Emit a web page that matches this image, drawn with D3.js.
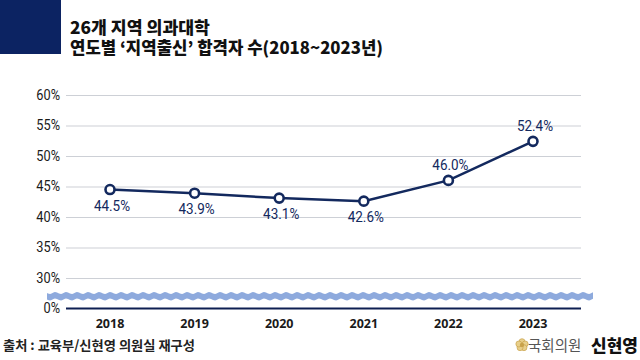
<!DOCTYPE html>
<html><head><meta charset="utf-8">
<script src="https://cdn.jsdelivr.net/npm/d3@7"></script>
<style>
body{margin:0;background:#fff;}
svg{display:block;}
</style></head>
<body>
<svg id="c" width="640" height="360"></svg>
<script>
const years = ["2018","2019","2020","2021","2022","2023"];
const values = [44.5, 43.9, 43.1, 42.6, 46.0, 52.4];
const labelAbove = [false,false,false,false,true,true];
const yTicks = [30,35,40,45,50,55,60];
const titleLines = ["26개 지역 의과대학", "연도별 ‘지역출신’ 합격자 수(2018~2023년)"];
const sourceText = "출처 : 교육부/신현영 의원실 재구성";

const navy = "#13295e";
const svg = d3.select("#c");

// header block
svg.append("rect").attr("x",0).attr("y",0).attr("width",61).attr("height",54).attr("fill","#0c2362");
const titleWidths = [140, 313];
svg.append("text")
  .attr("font-family","'Noto Sans CJK KR'").attr("font-weight",900)
  .attr("font-size",17).attr("fill","#111")
  .selectAll("tspan").data(titleLines).join("tspan")
  .attr("x",70).attr("y",(d,i)=>34+i*20)
  .attr("textLength",(d,i)=>titleWidths[i]).attr("lengthAdjust","spacingAndGlyphs")
  .text(d=>d);

const x = d3.scalePoint().domain(years).range([110,533]);
const y = d3.scaleLinear().domain([30,60]).range([278,95]);
const y0 = 308.5;
const gx0 = 66, gx1 = 581;

// grid
svg.append("g").selectAll("line").data(yTicks).join("line")
  .attr("x1",gx0).attr("x2",gx1)
  .attr("y1",d=>y(d)+0.5).attr("y2",d=>y(d)+0.5)
  .attr("stroke","#cdd0d6").attr("stroke-width",1.2);

// y tick labels
const tickFont = "Roboto";
svg.append("g").selectAll("text").data(yTicks).join("text")
  .attr("x",60).attr("y",d=>y(d)+5)
  .attr("text-anchor","end").attr("font-family",tickFont)
  .attr("font-size",14.5).attr("fill","#1a1a1a")
  .attr("transform",d=>`translate(60,0) scale(0.88,1) translate(-60,0)`)
  .text(d=>d+"%");
svg.append("text").attr("x",60).attr("y",y0+5)
  .attr("text-anchor","end").attr("font-family",tickFont)
  .attr("font-size",14.5).attr("fill","#1a1a1a")
  .attr("transform",`translate(60,0) scale(0.88,1) translate(-60,0)`)
  .text("0%");

// zero axis
svg.append("line").attr("x1",gx0).attr("x2",gx1).attr("y1",y0).attr("y2",y0)
  .attr("stroke","#0e1f52").attr("stroke-width",2);

// wavy break band
(function(){
  const xa=47, xb=593, top=293, bot=299.5, amp=0.9, per=11;
  const pts=[];
  for(let xx=xa; xx<=xb; xx+=1) pts.push([xx, top+amp*Math.sin((xx-xa)/per*2*Math.PI)]);
  const ptsB=[];
  for(let xx=xb; xx>=xa; xx-=1) ptsB.push([xx, bot+amp*Math.sin((xx-xa)/per*2*Math.PI)]);
  svg.append("path").attr("d", d3.line()(pts.concat(ptsB))+"Z").attr("fill","#8eaadd");
})();

// x labels
svg.append("g").selectAll("text").data(years).join("text")
  .attr("x",d=>x(d)).attr("y",328)
  .attr("text-anchor","middle").attr("font-family","'Noto Sans'").attr("font-weight",700)
  .attr("font-size",12.5).attr("fill","#1a1a1a").text(d=>d);

// line
const data = years.map((yr,i)=>({yr, v:values[i], above:labelAbove[i]}));
svg.append("path").datum(data)
  .attr("d", d3.line().x(d=>x(d.yr)).y(d=>y(d.v)))
  .attr("fill","none").attr("stroke",navy).attr("stroke-width",2.5);
svg.append("g").selectAll("circle").data(data).join("circle")
  .attr("cx",d=>x(d.yr)).attr("cy",d=>y(d.v)).attr("r",4.5)
  .attr("fill","#fff").attr("stroke",navy).attr("stroke-width",2.6);
svg.append("g").selectAll("text").data(data).join("text")
  .attr("x",d=>x(d.yr)+2).attr("y",d=>y(d.v)+(d.above?-10:21))
  .attr("text-anchor","middle").attr("font-family","Roboto")
  .attr("font-size",15).attr("fill",navy)
  .attr("transform",d=>{const cx=x(d.yr)+2;return `translate(${cx},0) scale(0.9,1) translate(${-cx},0)`;})
  .text(d=>d.v.toFixed(1)+"%");

// source
svg.append("text").attr("x",3).attr("y",350)
  .attr("font-family","'Noto Sans CJK KR'").attr("font-weight",700)
  .attr("font-size",13).attr("fill","#222")
  .attr("textLength",192).attr("lengthAdjust","spacingAndGlyphs").text(sourceText);

// logo
const lg = svg.append("g").attr("transform","translate(522,345)");
for(let k=0;k<5;k++){
  const a=k*72*Math.PI/180 - Math.PI/2;
  lg.append("circle").attr("cx",3.3*Math.cos(a)).attr("cy",3.3*Math.sin(a)).attr("r",3)
    .attr("fill","#e8cf8a").attr("stroke","#c9a24a").attr("stroke-width",0.7);
}
lg.append("circle").attr("r",2.2).attr("fill","#c9a24a");
svg.append("text").attr("x",528).attr("y",351)
  .attr("font-family","'Noto Sans CJK KR'").attr("font-weight",400)
  .attr("font-size",14.5).attr("fill","#555").text("국회의원");
svg.append("text").attr("x",591).attr("y",352)
  .attr("font-family","'Noto Sans CJK KR'").attr("font-weight",900)
  .attr("font-size",17).attr("fill","#111").text("신현영");
</script>
</body></html>
